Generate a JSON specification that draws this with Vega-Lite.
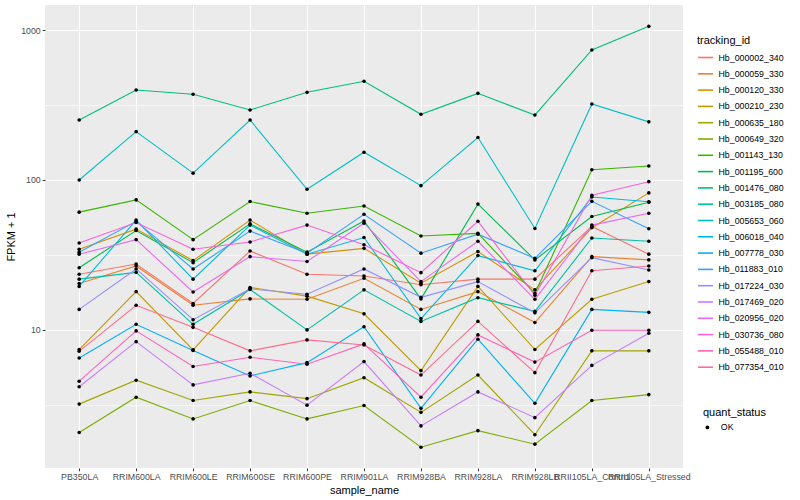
{
"$schema": "https://vega.github.io/schema/vega-lite/v6.json",
"width": 638, "height": 463,
"autosize": {"type": "none"},
"padding": {"left": 45, "top": 5, "right": 117, "bottom": 32},
"background": "white",
"config": {
  "font": "Liberation Sans",
  "view": {"fill": "#EBEBEB", "stroke": null},
  "axis": {"domain": false, "gridColor": "white", "tickColor": "#333333", "tickSize": 2.75, "tickWidth": 1, "labelColor": "#4D4D4D", "labelFontSize": 8.8, "labelPadding": 2, "titleFontSize": 11, "titleFontWeight": "normal", "titleColor": "black"},
  "legend": {"titleFontSize": 11, "titleFontWeight": "normal", "titleColor": "black", "labelFontSize": 8.8, "labelColor": "black"}
},
"data": {"values": [
{"tracking_id":"Hb_000002_340","sample_name":"PB350LA","fpkm":23.5,"quant_status":"OK"},
{"tracking_id":"Hb_000002_340","sample_name":"RRIM600LA","fpkm":27.5,"quant_status":"OK"},
{"tracking_id":"Hb_000002_340","sample_name":"RRIM600LE","fpkm":15,"quant_status":"OK"},
{"tracking_id":"Hb_000002_340","sample_name":"RRIM600SE","fpkm":33.6,"quant_status":"OK"},
{"tracking_id":"Hb_000002_340","sample_name":"RRIM600PE","fpkm":23.5,"quant_status":"OK"},
{"tracking_id":"Hb_000002_340","sample_name":"RRIM901LA","fpkm":22.9,"quant_status":"OK"},
{"tracking_id":"Hb_000002_340","sample_name":"RRIM928BA","fpkm":20,"quant_status":"OK"},
{"tracking_id":"Hb_000002_340","sample_name":"RRIM928LA","fpkm":21.8,"quant_status":"OK"},
{"tracking_id":"Hb_000002_340","sample_name":"RRIM928LB","fpkm":21.8,"quant_status":"OK"},
{"tracking_id":"Hb_000002_340","sample_name":"RRII105LA_Control","fpkm":49,"quant_status":"OK"},
{"tracking_id":"Hb_000002_340","sample_name":"RRII105LA_Stressed","fpkm":32,"quant_status":"OK"},
{"tracking_id":"Hb_000059_330","sample_name":"PB350LA","fpkm":20.4,"quant_status":"OK"},
{"tracking_id":"Hb_000059_330","sample_name":"RRIM600LA","fpkm":26.7,"quant_status":"OK"},
{"tracking_id":"Hb_000059_330","sample_name":"RRIM600LE","fpkm":14.6,"quant_status":"OK"},
{"tracking_id":"Hb_000059_330","sample_name":"RRIM600SE","fpkm":16.1,"quant_status":"OK"},
{"tracking_id":"Hb_000059_330","sample_name":"RRIM600PE","fpkm":16,"quant_status":"OK"},
{"tracking_id":"Hb_000059_330","sample_name":"RRIM901LA","fpkm":22.1,"quant_status":"OK"},
{"tracking_id":"Hb_000059_330","sample_name":"RRIM928BA","fpkm":13.7,"quant_status":"OK"},
{"tracking_id":"Hb_000059_330","sample_name":"RRIM928LA","fpkm":18,"quant_status":"OK"},
{"tracking_id":"Hb_000059_330","sample_name":"RRIM928LB","fpkm":11.2,"quant_status":"OK"},
{"tracking_id":"Hb_000059_330","sample_name":"RRII105LA_Control","fpkm":30.8,"quant_status":"OK"},
{"tracking_id":"Hb_000059_330","sample_name":"RRII105LA_Stressed","fpkm":29.3,"quant_status":"OK"},
{"tracking_id":"Hb_000120_330","sample_name":"PB350LA","fpkm":34.5,"quant_status":"OK"},
{"tracking_id":"Hb_000120_330","sample_name":"RRIM600LA","fpkm":47,"quant_status":"OK"},
{"tracking_id":"Hb_000120_330","sample_name":"RRIM600LE","fpkm":29,"quant_status":"OK"},
{"tracking_id":"Hb_000120_330","sample_name":"RRIM600SE","fpkm":54,"quant_status":"OK"},
{"tracking_id":"Hb_000120_330","sample_name":"RRIM600PE","fpkm":32,"quant_status":"OK"},
{"tracking_id":"Hb_000120_330","sample_name":"RRIM901LA","fpkm":35,"quant_status":"OK"},
{"tracking_id":"Hb_000120_330","sample_name":"RRIM928BA","fpkm":20.5,"quant_status":"OK"},
{"tracking_id":"Hb_000120_330","sample_name":"RRIM928LA","fpkm":33.3,"quant_status":"OK"},
{"tracking_id":"Hb_000120_330","sample_name":"RRIM928LB","fpkm":18.5,"quant_status":"OK"},
{"tracking_id":"Hb_000120_330","sample_name":"RRII105LA_Control","fpkm":48,"quant_status":"OK"},
{"tracking_id":"Hb_000120_330","sample_name":"RRII105LA_Stressed","fpkm":82,"quant_status":"OK"},
{"tracking_id":"Hb_000210_230","sample_name":"PB350LA","fpkm":7.4,"quant_status":"OK"},
{"tracking_id":"Hb_000210_230","sample_name":"RRIM600LA","fpkm":18,"quant_status":"OK"},
{"tracking_id":"Hb_000210_230","sample_name":"RRIM600LE","fpkm":7.36,"quant_status":"OK"},
{"tracking_id":"Hb_000210_230","sample_name":"RRIM600SE","fpkm":19.2,"quant_status":"OK"},
{"tracking_id":"Hb_000210_230","sample_name":"RRIM600PE","fpkm":16.8,"quant_status":"OK"},
{"tracking_id":"Hb_000210_230","sample_name":"RRIM901LA","fpkm":12.8,"quant_status":"OK"},
{"tracking_id":"Hb_000210_230","sample_name":"RRIM928BA","fpkm":5.35,"quant_status":"OK"},
{"tracking_id":"Hb_000210_230","sample_name":"RRIM928LA","fpkm":19.5,"quant_status":"OK"},
{"tracking_id":"Hb_000210_230","sample_name":"RRIM928LB","fpkm":7.4,"quant_status":"OK"},
{"tracking_id":"Hb_000210_230","sample_name":"RRII105LA_Control","fpkm":16,"quant_status":"OK"},
{"tracking_id":"Hb_000210_230","sample_name":"RRII105LA_Stressed","fpkm":21,"quant_status":"OK"},
{"tracking_id":"Hb_000635_180","sample_name":"PB350LA","fpkm":3.2,"quant_status":"OK"},
{"tracking_id":"Hb_000635_180","sample_name":"RRIM600LA","fpkm":4.62,"quant_status":"OK"},
{"tracking_id":"Hb_000635_180","sample_name":"RRIM600LE","fpkm":3.38,"quant_status":"OK"},
{"tracking_id":"Hb_000635_180","sample_name":"RRIM600SE","fpkm":3.86,"quant_status":"OK"},
{"tracking_id":"Hb_000635_180","sample_name":"RRIM600PE","fpkm":3.48,"quant_status":"OK"},
{"tracking_id":"Hb_000635_180","sample_name":"RRIM901LA","fpkm":4.8,"quant_status":"OK"},
{"tracking_id":"Hb_000635_180","sample_name":"RRIM928BA","fpkm":2.82,"quant_status":"OK"},
{"tracking_id":"Hb_000635_180","sample_name":"RRIM928LA","fpkm":5.0,"quant_status":"OK"},
{"tracking_id":"Hb_000635_180","sample_name":"RRIM928LB","fpkm":2.0,"quant_status":"OK"},
{"tracking_id":"Hb_000635_180","sample_name":"RRII105LA_Control","fpkm":7.25,"quant_status":"OK"},
{"tracking_id":"Hb_000635_180","sample_name":"RRII105LA_Stressed","fpkm":7.25,"quant_status":"OK"},
{"tracking_id":"Hb_000649_320","sample_name":"PB350LA","fpkm":2.07,"quant_status":"OK"},
{"tracking_id":"Hb_000649_320","sample_name":"RRIM600LA","fpkm":3.56,"quant_status":"OK"},
{"tracking_id":"Hb_000649_320","sample_name":"RRIM600LE","fpkm":2.55,"quant_status":"OK"},
{"tracking_id":"Hb_000649_320","sample_name":"RRIM600SE","fpkm":3.38,"quant_status":"OK"},
{"tracking_id":"Hb_000649_320","sample_name":"RRIM600PE","fpkm":2.55,"quant_status":"OK"},
{"tracking_id":"Hb_000649_320","sample_name":"RRIM901LA","fpkm":3.13,"quant_status":"OK"},
{"tracking_id":"Hb_000649_320","sample_name":"RRIM928BA","fpkm":1.65,"quant_status":"OK"},
{"tracking_id":"Hb_000649_320","sample_name":"RRIM928LA","fpkm":2.13,"quant_status":"OK"},
{"tracking_id":"Hb_000649_320","sample_name":"RRIM928LB","fpkm":1.73,"quant_status":"OK"},
{"tracking_id":"Hb_000649_320","sample_name":"RRII105LA_Control","fpkm":3.38,"quant_status":"OK"},
{"tracking_id":"Hb_000649_320","sample_name":"RRII105LA_Stressed","fpkm":3.7,"quant_status":"OK"},
{"tracking_id":"Hb_001143_130","sample_name":"PB350LA","fpkm":61,"quant_status":"OK"},
{"tracking_id":"Hb_001143_130","sample_name":"RRIM600LA","fpkm":73.6,"quant_status":"OK"},
{"tracking_id":"Hb_001143_130","sample_name":"RRIM600LE","fpkm":40,"quant_status":"OK"},
{"tracking_id":"Hb_001143_130","sample_name":"RRIM600SE","fpkm":71.8,"quant_status":"OK"},
{"tracking_id":"Hb_001143_130","sample_name":"RRIM600PE","fpkm":60,"quant_status":"OK"},
{"tracking_id":"Hb_001143_130","sample_name":"RRIM901LA","fpkm":67,"quant_status":"OK"},
{"tracking_id":"Hb_001143_130","sample_name":"RRIM928BA","fpkm":42.3,"quant_status":"OK"},
{"tracking_id":"Hb_001143_130","sample_name":"RRIM928LA","fpkm":44,"quant_status":"OK"},
{"tracking_id":"Hb_001143_130","sample_name":"RRIM928LB","fpkm":17.5,"quant_status":"OK"},
{"tracking_id":"Hb_001143_130","sample_name":"RRII105LA_Control","fpkm":117,"quant_status":"OK"},
{"tracking_id":"Hb_001143_130","sample_name":"RRII105LA_Stressed","fpkm":124,"quant_status":"OK"},
{"tracking_id":"Hb_001195_600","sample_name":"PB350LA","fpkm":26,"quant_status":"OK"},
{"tracking_id":"Hb_001195_600","sample_name":"RRIM600LA","fpkm":46,"quant_status":"OK"},
{"tracking_id":"Hb_001195_600","sample_name":"RRIM600LE","fpkm":28.1,"quant_status":"OK"},
{"tracking_id":"Hb_001195_600","sample_name":"RRIM600SE","fpkm":51,"quant_status":"OK"},
{"tracking_id":"Hb_001195_600","sample_name":"RRIM600PE","fpkm":33,"quant_status":"OK"},
{"tracking_id":"Hb_001195_600","sample_name":"RRIM901LA","fpkm":53.3,"quant_status":"OK"},
{"tracking_id":"Hb_001195_600","sample_name":"RRIM928BA","fpkm":16.1,"quant_status":"OK"},
{"tracking_id":"Hb_001195_600","sample_name":"RRIM928LA","fpkm":69,"quant_status":"OK"},
{"tracking_id":"Hb_001195_600","sample_name":"RRIM928LB","fpkm":29.3,"quant_status":"OK"},
{"tracking_id":"Hb_001195_600","sample_name":"RRII105LA_Control","fpkm":57,"quant_status":"OK"},
{"tracking_id":"Hb_001195_600","sample_name":"RRII105LA_Stressed","fpkm":71,"quant_status":"OK"},
{"tracking_id":"Hb_001476_080","sample_name":"PB350LA","fpkm":251,"quant_status":"OK"},
{"tracking_id":"Hb_001476_080","sample_name":"RRIM600LA","fpkm":398,"quant_status":"OK"},
{"tracking_id":"Hb_001476_080","sample_name":"RRIM600LE","fpkm":373,"quant_status":"OK"},
{"tracking_id":"Hb_001476_080","sample_name":"RRIM600SE","fpkm":293,"quant_status":"OK"},
{"tracking_id":"Hb_001476_080","sample_name":"RRIM600PE","fpkm":384,"quant_status":"OK"},
{"tracking_id":"Hb_001476_080","sample_name":"RRIM901LA","fpkm":455,"quant_status":"OK"},
{"tracking_id":"Hb_001476_080","sample_name":"RRIM928BA","fpkm":274,"quant_status":"OK"},
{"tracking_id":"Hb_001476_080","sample_name":"RRIM928LA","fpkm":378,"quant_status":"OK"},
{"tracking_id":"Hb_001476_080","sample_name":"RRIM928LB","fpkm":271,"quant_status":"OK"},
{"tracking_id":"Hb_001476_080","sample_name":"RRII105LA_Control","fpkm":736,"quant_status":"OK"},
{"tracking_id":"Hb_001476_080","sample_name":"RRII105LA_Stressed","fpkm":1058,"quant_status":"OK"},
{"tracking_id":"Hb_003185_080","sample_name":"PB350LA","fpkm":21.8,"quant_status":"OK"},
{"tracking_id":"Hb_003185_080","sample_name":"RRIM600LA","fpkm":24.2,"quant_status":"OK"},
{"tracking_id":"Hb_003185_080","sample_name":"RRIM600LE","fpkm":10.9,"quant_status":"OK"},
{"tracking_id":"Hb_003185_080","sample_name":"RRIM600SE","fpkm":18.6,"quant_status":"OK"},
{"tracking_id":"Hb_003185_080","sample_name":"RRIM600PE","fpkm":10,"quant_status":"OK"},
{"tracking_id":"Hb_003185_080","sample_name":"RRIM901LA","fpkm":18.5,"quant_status":"OK"},
{"tracking_id":"Hb_003185_080","sample_name":"RRIM928BA","fpkm":11.4,"quant_status":"OK"},
{"tracking_id":"Hb_003185_080","sample_name":"RRIM928LA","fpkm":16.4,"quant_status":"OK"},
{"tracking_id":"Hb_003185_080","sample_name":"RRIM928LB","fpkm":13.3,"quant_status":"OK"},
{"tracking_id":"Hb_003185_080","sample_name":"RRII105LA_Control","fpkm":41,"quant_status":"OK"},
{"tracking_id":"Hb_003185_080","sample_name":"RRII105LA_Stressed","fpkm":39,"quant_status":"OK"},
{"tracking_id":"Hb_005653_060","sample_name":"PB350LA","fpkm":100,"quant_status":"OK"},
{"tracking_id":"Hb_005653_060","sample_name":"RRIM600LA","fpkm":210,"quant_status":"OK"},
{"tracking_id":"Hb_005653_060","sample_name":"RRIM600LE","fpkm":111,"quant_status":"OK"},
{"tracking_id":"Hb_005653_060","sample_name":"RRIM600SE","fpkm":251,"quant_status":"OK"},
{"tracking_id":"Hb_005653_060","sample_name":"RRIM600PE","fpkm":86.7,"quant_status":"OK"},
{"tracking_id":"Hb_005653_060","sample_name":"RRIM901LA","fpkm":153,"quant_status":"OK"},
{"tracking_id":"Hb_005653_060","sample_name":"RRIM928BA","fpkm":91.6,"quant_status":"OK"},
{"tracking_id":"Hb_005653_060","sample_name":"RRIM928LA","fpkm":192,"quant_status":"OK"},
{"tracking_id":"Hb_005653_060","sample_name":"RRIM928LB","fpkm":47.5,"quant_status":"OK"},
{"tracking_id":"Hb_005653_060","sample_name":"RRII105LA_Control","fpkm":321,"quant_status":"OK"},
{"tracking_id":"Hb_005653_060","sample_name":"RRII105LA_Stressed","fpkm":244,"quant_status":"OK"},
{"tracking_id":"Hb_006018_040","sample_name":"PB350LA","fpkm":19.5,"quant_status":"OK"},
{"tracking_id":"Hb_006018_040","sample_name":"RRIM600LA","fpkm":54,"quant_status":"OK"},
{"tracking_id":"Hb_006018_040","sample_name":"RRIM600LE","fpkm":21.8,"quant_status":"OK"},
{"tracking_id":"Hb_006018_040","sample_name":"RRIM600SE","fpkm":50,"quant_status":"OK"},
{"tracking_id":"Hb_006018_040","sample_name":"RRIM600PE","fpkm":32,"quant_status":"OK"},
{"tracking_id":"Hb_006018_040","sample_name":"RRIM901LA","fpkm":41.3,"quant_status":"OK"},
{"tracking_id":"Hb_006018_040","sample_name":"RRIM928BA","fpkm":11.9,"quant_status":"OK"},
{"tracking_id":"Hb_006018_040","sample_name":"RRIM928LA","fpkm":31.3,"quant_status":"OK"},
{"tracking_id":"Hb_006018_040","sample_name":"RRIM928LB","fpkm":24.8,"quant_status":"OK"},
{"tracking_id":"Hb_006018_040","sample_name":"RRII105LA_Control","fpkm":77,"quant_status":"OK"},
{"tracking_id":"Hb_006018_040","sample_name":"RRII105LA_Stressed","fpkm":71.5,"quant_status":"OK"},
{"tracking_id":"Hb_007778_030","sample_name":"PB350LA","fpkm":6.5,"quant_status":"OK"},
{"tracking_id":"Hb_007778_030","sample_name":"RRIM600LA","fpkm":10.9,"quant_status":"OK"},
{"tracking_id":"Hb_007778_030","sample_name":"RRIM600LE","fpkm":7.3,"quant_status":"OK"},
{"tracking_id":"Hb_007778_030","sample_name":"RRIM600SE","fpkm":4.93,"quant_status":"OK"},
{"tracking_id":"Hb_007778_030","sample_name":"RRIM600PE","fpkm":6.05,"quant_status":"OK"},
{"tracking_id":"Hb_007778_030","sample_name":"RRIM901LA","fpkm":10.5,"quant_status":"OK"},
{"tracking_id":"Hb_007778_030","sample_name":"RRIM928BA","fpkm":3.0,"quant_status":"OK"},
{"tracking_id":"Hb_007778_030","sample_name":"RRIM928LA","fpkm":8.67,"quant_status":"OK"},
{"tracking_id":"Hb_007778_030","sample_name":"RRIM928LB","fpkm":3.24,"quant_status":"OK"},
{"tracking_id":"Hb_007778_030","sample_name":"RRII105LA_Control","fpkm":13.7,"quant_status":"OK"},
{"tracking_id":"Hb_007778_030","sample_name":"RRII105LA_Stressed","fpkm":13.1,"quant_status":"OK"},
{"tracking_id":"Hb_011883_010","sample_name":"PB350LA","fpkm":33,"quant_status":"OK"},
{"tracking_id":"Hb_011883_010","sample_name":"RRIM600LA","fpkm":53,"quant_status":"OK"},
{"tracking_id":"Hb_011883_010","sample_name":"RRIM600LE","fpkm":25.5,"quant_status":"OK"},
{"tracking_id":"Hb_011883_010","sample_name":"RRIM600SE","fpkm":45.6,"quant_status":"OK"},
{"tracking_id":"Hb_011883_010","sample_name":"RRIM600PE","fpkm":32.5,"quant_status":"OK"},
{"tracking_id":"Hb_011883_010","sample_name":"RRIM901LA","fpkm":59,"quant_status":"OK"},
{"tracking_id":"Hb_011883_010","sample_name":"RRIM928BA","fpkm":32.5,"quant_status":"OK"},
{"tracking_id":"Hb_011883_010","sample_name":"RRIM928LA","fpkm":43.5,"quant_status":"OK"},
{"tracking_id":"Hb_011883_010","sample_name":"RRIM928LB","fpkm":30,"quant_status":"OK"},
{"tracking_id":"Hb_011883_010","sample_name":"RRII105LA_Control","fpkm":72,"quant_status":"OK"},
{"tracking_id":"Hb_011883_010","sample_name":"RRII105LA_Stressed","fpkm":47.3,"quant_status":"OK"},
{"tracking_id":"Hb_017224_030","sample_name":"PB350LA","fpkm":13.7,"quant_status":"OK"},
{"tracking_id":"Hb_017224_030","sample_name":"RRIM600LA","fpkm":25.5,"quant_status":"OK"},
{"tracking_id":"Hb_017224_030","sample_name":"RRIM600LE","fpkm":11.7,"quant_status":"OK"},
{"tracking_id":"Hb_017224_030","sample_name":"RRIM600SE","fpkm":18.8,"quant_status":"OK"},
{"tracking_id":"Hb_017224_030","sample_name":"RRIM600PE","fpkm":17.3,"quant_status":"OK"},
{"tracking_id":"Hb_017224_030","sample_name":"RRIM901LA","fpkm":25.5,"quant_status":"OK"},
{"tracking_id":"Hb_017224_030","sample_name":"RRIM928BA","fpkm":16.5,"quant_status":"OK"},
{"tracking_id":"Hb_017224_030","sample_name":"RRIM928LA","fpkm":21,"quant_status":"OK"},
{"tracking_id":"Hb_017224_030","sample_name":"RRIM928LB","fpkm":13,"quant_status":"OK"},
{"tracking_id":"Hb_017224_030","sample_name":"RRII105LA_Control","fpkm":30.3,"quant_status":"OK"},
{"tracking_id":"Hb_017224_030","sample_name":"RRII105LA_Stressed","fpkm":25.1,"quant_status":"OK"},
{"tracking_id":"Hb_017469_020","sample_name":"PB350LA","fpkm":4.18,"quant_status":"OK"},
{"tracking_id":"Hb_017469_020","sample_name":"RRIM600LA","fpkm":8.35,"quant_status":"OK"},
{"tracking_id":"Hb_017469_020","sample_name":"RRIM600LE","fpkm":4.3,"quant_status":"OK"},
{"tracking_id":"Hb_017469_020","sample_name":"RRIM600SE","fpkm":5.14,"quant_status":"OK"},
{"tracking_id":"Hb_017469_020","sample_name":"RRIM600PE","fpkm":3.15,"quant_status":"OK"},
{"tracking_id":"Hb_017469_020","sample_name":"RRIM901LA","fpkm":6.15,"quant_status":"OK"},
{"tracking_id":"Hb_017469_020","sample_name":"RRIM928BA","fpkm":2.29,"quant_status":"OK"},
{"tracking_id":"Hb_017469_020","sample_name":"RRIM928LA","fpkm":3.86,"quant_status":"OK"},
{"tracking_id":"Hb_017469_020","sample_name":"RRIM928LB","fpkm":2.6,"quant_status":"OK"},
{"tracking_id":"Hb_017469_020","sample_name":"RRII105LA_Control","fpkm":5.8,"quant_status":"OK"},
{"tracking_id":"Hb_017469_020","sample_name":"RRII105LA_Stressed","fpkm":9.5,"quant_status":"OK"},
{"tracking_id":"Hb_020956_020","sample_name":"PB350LA","fpkm":32,"quant_status":"OK"},
{"tracking_id":"Hb_020956_020","sample_name":"RRIM600LA","fpkm":40,"quant_status":"OK"},
{"tracking_id":"Hb_020956_020","sample_name":"RRIM600LE","fpkm":17.9,"quant_status":"OK"},
{"tracking_id":"Hb_020956_020","sample_name":"RRIM600SE","fpkm":30.8,"quant_status":"OK"},
{"tracking_id":"Hb_020956_020","sample_name":"RRIM600PE","fpkm":28.6,"quant_status":"OK"},
{"tracking_id":"Hb_020956_020","sample_name":"RRIM901LA","fpkm":51.5,"quant_status":"OK"},
{"tracking_id":"Hb_020956_020","sample_name":"RRIM928BA","fpkm":21,"quant_status":"OK"},
{"tracking_id":"Hb_020956_020","sample_name":"RRIM928LA","fpkm":39,"quant_status":"OK"},
{"tracking_id":"Hb_020956_020","sample_name":"RRIM928LB","fpkm":16,"quant_status":"OK"},
{"tracking_id":"Hb_020956_020","sample_name":"RRII105LA_Control","fpkm":50,"quant_status":"OK"},
{"tracking_id":"Hb_020956_020","sample_name":"RRII105LA_Stressed","fpkm":60,"quant_status":"OK"},
{"tracking_id":"Hb_030736_080","sample_name":"PB350LA","fpkm":38,"quant_status":"OK"},
{"tracking_id":"Hb_030736_080","sample_name":"RRIM600LA","fpkm":52,"quant_status":"OK"},
{"tracking_id":"Hb_030736_080","sample_name":"RRIM600LE","fpkm":34.5,"quant_status":"OK"},
{"tracking_id":"Hb_030736_080","sample_name":"RRIM600SE","fpkm":38.6,"quant_status":"OK"},
{"tracking_id":"Hb_030736_080","sample_name":"RRIM600PE","fpkm":50,"quant_status":"OK"},
{"tracking_id":"Hb_030736_080","sample_name":"RRIM901LA","fpkm":37,"quant_status":"OK"},
{"tracking_id":"Hb_030736_080","sample_name":"RRIM928BA","fpkm":24.1,"quant_status":"OK"},
{"tracking_id":"Hb_030736_080","sample_name":"RRIM928LA","fpkm":53,"quant_status":"OK"},
{"tracking_id":"Hb_030736_080","sample_name":"RRIM928LB","fpkm":17,"quant_status":"OK"},
{"tracking_id":"Hb_030736_080","sample_name":"RRII105LA_Control","fpkm":79,"quant_status":"OK"},
{"tracking_id":"Hb_030736_080","sample_name":"RRII105LA_Stressed","fpkm":97.4,"quant_status":"OK"},
{"tracking_id":"Hb_055488_010","sample_name":"PB350LA","fpkm":4.55,"quant_status":"OK"},
{"tracking_id":"Hb_055488_010","sample_name":"RRIM600LA","fpkm":9.85,"quant_status":"OK"},
{"tracking_id":"Hb_055488_010","sample_name":"RRIM600LE","fpkm":5.7,"quant_status":"OK"},
{"tracking_id":"Hb_055488_010","sample_name":"RRIM600SE","fpkm":6.57,"quant_status":"OK"},
{"tracking_id":"Hb_055488_010","sample_name":"RRIM600PE","fpkm":5.9,"quant_status":"OK"},
{"tracking_id":"Hb_055488_010","sample_name":"RRIM901LA","fpkm":8.07,"quant_status":"OK"},
{"tracking_id":"Hb_055488_010","sample_name":"RRIM928BA","fpkm":3.56,"quant_status":"OK"},
{"tracking_id":"Hb_055488_010","sample_name":"RRIM928LA","fpkm":9.26,"quant_status":"OK"},
{"tracking_id":"Hb_055488_010","sample_name":"RRIM928LB","fpkm":6.1,"quant_status":"OK"},
{"tracking_id":"Hb_055488_010","sample_name":"RRII105LA_Control","fpkm":9.95,"quant_status":"OK"},
{"tracking_id":"Hb_055488_010","sample_name":"RRII105LA_Stressed","fpkm":9.95,"quant_status":"OK"},
{"tracking_id":"Hb_077354_010","sample_name":"PB350LA","fpkm":7.2,"quant_status":"OK"},
{"tracking_id":"Hb_077354_010","sample_name":"RRIM600LA","fpkm":14.6,"quant_status":"OK"},
{"tracking_id":"Hb_077354_010","sample_name":"RRIM600LE","fpkm":10.4,"quant_status":"OK"},
{"tracking_id":"Hb_077354_010","sample_name":"RRIM600SE","fpkm":7.25,"quant_status":"OK"},
{"tracking_id":"Hb_077354_010","sample_name":"RRIM600PE","fpkm":8.58,"quant_status":"OK"},
{"tracking_id":"Hb_077354_010","sample_name":"RRIM901LA","fpkm":7.94,"quant_status":"OK"},
{"tracking_id":"Hb_077354_010","sample_name":"RRIM928BA","fpkm":5.0,"quant_status":"OK"},
{"tracking_id":"Hb_077354_010","sample_name":"RRIM928LA","fpkm":11.4,"quant_status":"OK"},
{"tracking_id":"Hb_077354_010","sample_name":"RRIM928LB","fpkm":5.19,"quant_status":"OK"},
{"tracking_id":"Hb_077354_010","sample_name":"RRII105LA_Control","fpkm":24.8,"quant_status":"OK"},
{"tracking_id":"Hb_077354_010","sample_name":"RRII105LA_Stressed","fpkm":26.7,"quant_status":"OK"}
]},
"encoding": {
  "x": {"field": "sample_name", "type": "nominal", "title": "sample_name",
        "sort": ["PB350LA","RRIM600LA","RRIM600LE","RRIM600SE","RRIM600PE","RRIM901LA","RRIM928BA","RRIM928LA","RRIM928LB","RRII105LA_Control","RRII105LA_Stressed"],
        "scale": {"type": "point", "padding": 0.6},
        "axis": {"labelAngle": 0, "labelOverlap": false, "labelBound": false, "grid": true, "gridWidth": 1.1, "titlePadding": 3}},
  "y": {"field": "fpkm", "type": "quantitative", "title": "FPKM + 1",
        "scale": {"type": "log", "domain": [1.2, 1468], "nice": false, "zero": false},
        "axis": {"values": [3.1623, 10, 31.623, 100, 316.23, 1000],
                 "labelExpr": "(datum.value == 10 || datum.value == 100 || datum.value == 1000) ? format(datum.value, 'd') : ''",
                 "gridWidth": {"condition": {"test": "datum.value == 10 || datum.value == 100 || datum.value == 1000", "value": 1.1}, "value": 0.55},
                 "tickOpacity": {"condition": {"test": "datum.value == 10 || datum.value == 100 || datum.value == 1000", "value": 1}, "value": 0},
                 "titlePadding": 4}}
},
"layer": [
  {"mark": {"type": "line", "strokeWidth": 1.1},
   "encoding": {"color": {"field": "tracking_id", "type": "nominal", "title": "tracking_id",
      "scale": {"domain": ["Hb_000002_340","Hb_000059_330","Hb_000120_330","Hb_000210_230","Hb_000635_180","Hb_000649_320","Hb_001143_130","Hb_001195_600","Hb_001476_080","Hb_003185_080","Hb_005653_060","Hb_006018_040","Hb_007778_030","Hb_011883_010","Hb_017224_030","Hb_017469_020","Hb_020956_020","Hb_030736_080","Hb_055488_010","Hb_077354_010"],
                "range": ["#F8766D","#EA8331","#D89000","#C09B00","#A3A500","#7CAE00","#39B600","#00BB4E","#00BF7D","#00C1A3","#00BFC4","#00BAE0","#00B0F6","#35A2FF","#9590FF","#C77CFF","#E76BF3","#FA62DB","#FF62BC","#FF6C91"]},
      "legend": {"orient": "none", "legendX": 652, "legendY": 30, "symbolType": "stroke", "symbolSize": 225, "symbolStrokeWidth": 1.6, "rowPadding": 2.3, "titlePadding": 3, "labelOffset": 4.5}}}},
  {"mark": {"type": "point", "filled": true, "size": 13, "color": "black", "opacity": 1},
   "encoding": {"shape": {"field": "quant_status", "type": "nominal", "title": "quant_status",
      "scale": {"range": ["circle"]},
      "legend": {"orient": "none", "legendX": 658, "legendY": 402, "symbolSize": 14, "symbolFillColor": "black", "symbolStrokeColor": "black", "titlePadding": 5, "labelOffset": 9}}}}
]
}
